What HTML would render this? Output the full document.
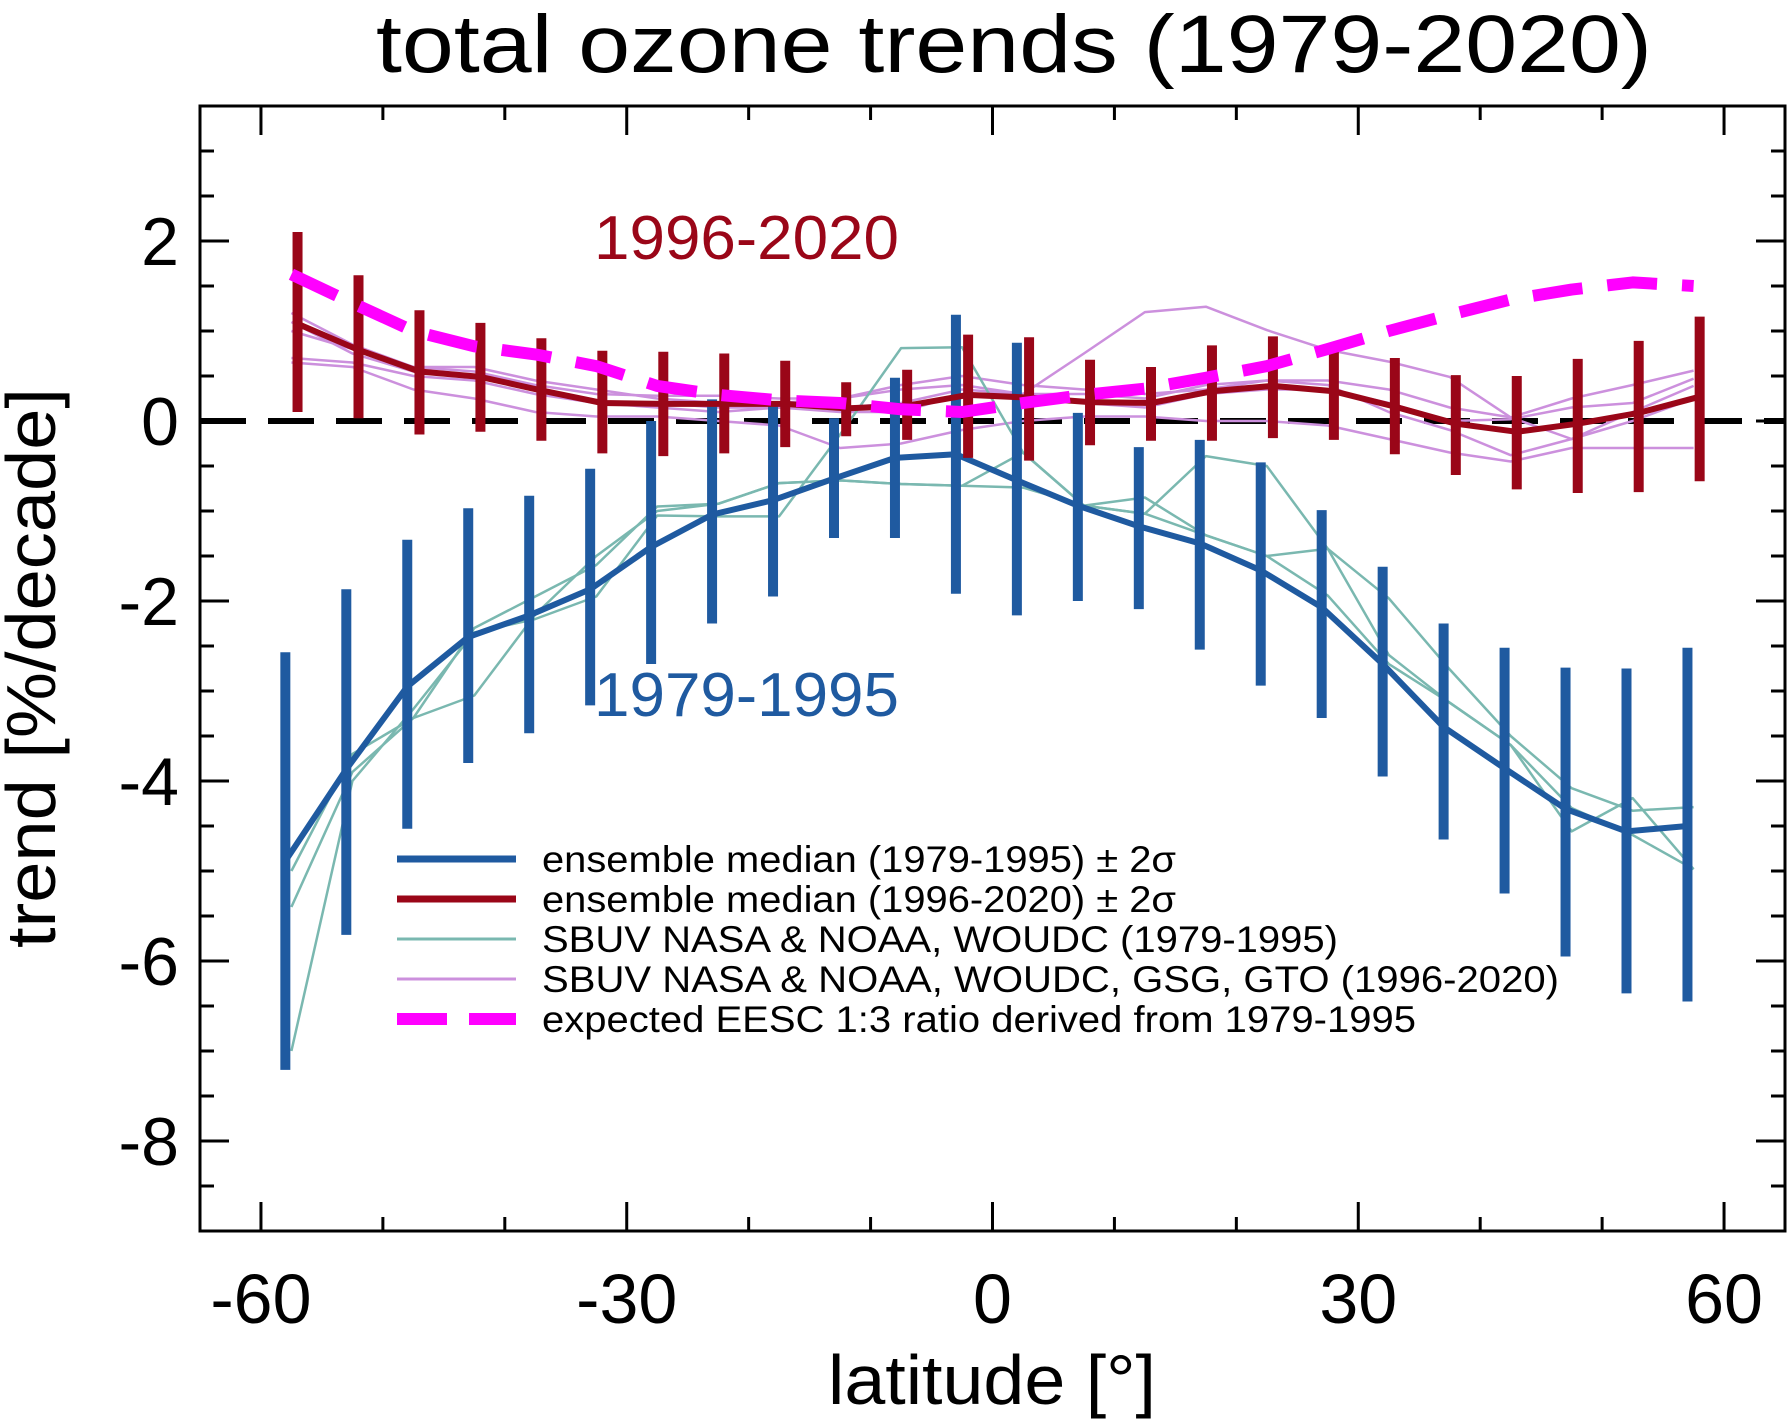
<!DOCTYPE html>
<html><head><meta charset="utf-8">
<style>
html,body{margin:0;padding:0;background:#fff;}
svg{display:block;font-family:"Liberation Sans",Arial,sans-serif;}
</style></head>
<body>
<svg id="chart" width="1791" height="1421" viewBox="0 0 1791 1421" xmlns="http://www.w3.org/2000/svg">
<rect x="0" y="0" width="1791" height="1421" fill="#fff"/>
<text x="1014" y="72" font-size="82" text-anchor="middle" textLength="1276" lengthAdjust="spacingAndGlyphs">total ozone trends (1979-2020)</text>
<g id="marks"></g>
<g id="axes"></g>
<text x="594" y="259" font-size="62" fill="#9a0618" textLength="305" lengthAdjust="spacingAndGlyphs">1996-2020</text>
<text x="594" y="716" font-size="62" fill="#1f5aa0" textLength="305" lengthAdjust="spacingAndGlyphs">1979-1995</text>
<text x="992" y="1404" font-size="70" text-anchor="middle" textLength="328" lengthAdjust="spacingAndGlyphs">latitude [°]</text>
<text transform="translate(55,668) rotate(-90)" font-size="70" text-anchor="middle" textLength="560" lengthAdjust="spacingAndGlyphs">trend [%/decade]</text>
<g id="legend">
 <line x1="397" y1="859" x2="516" y2="859" stroke="#1f5aa0" stroke-width="7"/>
 <text x="542" y="872" font-size="37" textLength="634" lengthAdjust="spacingAndGlyphs">ensemble median (1979-1995) ± 2σ</text>
 <line x1="397" y1="899" x2="516" y2="899" stroke="#9a0618" stroke-width="7"/>
 <text x="542" y="912" font-size="37" textLength="634" lengthAdjust="spacingAndGlyphs">ensemble median (1996-2020) ± 2σ</text>
 <line x1="397" y1="939" x2="516" y2="939" stroke="#7ab8b0" stroke-width="3"/>
 <text x="542" y="952" font-size="37" textLength="796" lengthAdjust="spacingAndGlyphs">SBUV NASA &amp; NOAA, WOUDC (1979-1995)</text>
 <line x1="397" y1="979" x2="516" y2="979" stroke="#cc90dd" stroke-width="3"/>
 <text x="542" y="992" font-size="37" textLength="1017" lengthAdjust="spacingAndGlyphs">SBUV NASA &amp; NOAA, WOUDC, GSG, GTO (1996-2020)</text>
 <line x1="397" y1="1019" x2="516" y2="1019" stroke="#ff00ff" stroke-width="12" stroke-dasharray="50,22"/>
 <text x="542" y="1032" font-size="37" textLength="874" lengthAdjust="spacingAndGlyphs">expected EESC 1:3 ratio derived from 1979-1995</text>
</g>
</svg>
<script>
const lats = [-57.5,-52.5,-47.5,-42.5,-37.5,-32.5,-27.5,-22.5,-17.5,-12.5,-7.5,-2.5,2.5,7.5,12.5,17.5,22.5,27.5,32.5,37.5,42.5,47.5,52.5,57.5];
const blueMed = [-4.89,-3.87,-2.95,-2.4,-2.16,-1.87,-1.4,-1.04,-0.88,-0.64,-0.41,-0.37,-0.66,-0.94,-1.17,-1.36,-1.66,-2.07,-2.7,-3.4,-3.86,-4.31,-4.56,-4.5];
const blueTop = [-2.57,-1.87,-1.32,-0.97,-0.83,-0.53,0.0,0.24,0.2,0.03,0.48,1.18,0.87,0.09,-0.29,-0.21,-0.46,-0.99,-1.62,-2.25,-2.52,-2.74,-2.75,-2.52];
const blueBot = [-7.21,-5.71,-4.53,-3.8,-3.47,-3.16,-2.7,-2.25,-1.95,-1.3,-1.3,-1.92,-2.16,-2.0,-2.09,-2.54,-2.94,-3.3,-3.95,-4.65,-5.25,-5.95,-6.36,-6.45];
const redMed = [1.08,0.79,0.55,0.49,0.34,0.2,0.19,0.19,0.19,0.14,0.17,0.29,0.26,0.21,0.2,0.33,0.39,0.33,0.16,-0.03,-0.12,-0.03,0.09,0.27];
const redTop = [2.1,1.62,1.23,1.09,0.92,0.78,0.77,0.75,0.67,0.43,0.57,0.96,0.93,0.68,0.6,0.84,0.94,0.84,0.7,0.51,0.5,0.69,0.89,1.16];
const redBot = [0.1,0.03,-0.15,-0.12,-0.22,-0.36,-0.39,-0.36,-0.29,-0.17,-0.21,-0.41,-0.44,-0.27,-0.22,-0.22,-0.19,-0.21,-0.37,-0.6,-0.76,-0.8,-0.79,-0.67];
const eesc = [1.63,1.31,1.0,0.83,0.74,0.61,0.39,0.29,0.23,0.2,0.13,0.1,0.2,0.29,0.36,0.48,0.61,0.8,1.0,1.18,1.35,1.46,1.54,1.5];
const teal1 = [-5.0,-3.7,-3.3,-2.3,-1.95,-1.6,-0.95,-0.92,-0.69,-0.66,-0.7,-0.72,-0.35,-0.94,-1.03,-0.39,-0.5,-1.42,-1.97,-2.76,-3.5,-4.08,-4.33,-4.29];
const teal2 = [-5.4,-3.9,-3.3,-3.05,-2.15,-1.5,-1.0,-0.92,-0.69,-0.66,-0.7,-0.72,-0.74,-0.94,-0.85,-1.27,-1.5,-1.42,-2.6,-3.13,-3.6,-4.3,-4.6,-4.98];
const teal3 = [-7.0,-4.0,-3.2,-2.35,-2.2,-1.95,-1.05,-1.06,-1.06,-0.15,0.81,0.82,-0.35,-0.94,-1.03,-1.27,-1.5,-1.94,-2.7,-3.13,-3.6,-4.56,-4.19,-4.98];
const purple1 = [1.2,0.85,0.6,0.55,0.4,0.3,0.28,0.28,0.25,0.25,0.4,0.5,0.4,0.35,0.3,0.35,0.45,0.45,0.35,0.15,0.04,0.25,0.4,0.56];
const purple2 = [1.0,0.8,0.6,0.6,0.45,0.35,0.25,0.2,0.2,0.25,0.35,0.4,0.3,0.2,0.15,0.3,0.35,0.35,0.2,0.0,0.02,0.15,0.2,0.47];
const purple3 = [0.7,0.65,0.5,0.45,0.3,0.2,0.15,0.1,0.15,0.1,0.1,0.3,0.3,0.75,1.21,1.27,1.01,0.79,0.66,0.49,0.04,-0.2,0.0,0.25];
const purple4 = [0.65,0.6,0.35,0.25,0.1,0.05,0.05,0.0,-0.05,-0.3,-0.25,-0.1,0.0,0.05,0.05,0.0,0.0,-0.05,-0.2,-0.35,-0.45,-0.3,-0.3,-0.3];
const purple5 = [1.1,0.75,0.55,0.5,0.35,0.2,0.2,0.15,0.15,0.15,0.2,0.35,0.3,0.3,0.25,0.4,0.45,0.4,0.1,-0.1,-0.38,-0.2,0.1,0.39];
const xTicks = [-60,-30,0,30,60];
const xTickLabels = ["-60","-30","0","30","60"];
const yTicks = [-8,-6,-4,-2,0,2];
const yTickLabels = ["-8","-6","-4","-2","0","2"];

const L=200,R=1785,T=106,B=1231, XMIN=-65,XMAX=65,YMIN=-9,YMAX=3.5;
function sx(v){return L+(v-XMIN)/(XMAX-XMIN)*(R-L);}
function sy(v){return B-(v-YMIN)/(YMAX-YMIN)*(B-T);}
const NS="http://www.w3.org/2000/svg";
const marks=document.getElementById('marks');
const axes=document.getElementById('axes');
function mk(tag,attrs,parent){const e=document.createElementNS(NS,tag);for(const k in attrs)e.setAttribute(k,attrs[k]);parent.appendChild(e);return e;}
function poly(vals,off,color,w,name,dash){
  const pts=vals.map((v,i)=>sx(lats[i]+off).toFixed(1)+','+sy(v).toFixed(1)).join(' ');
  const e=mk('polyline',{points:pts,fill:'none',stroke:color,'stroke-width':w,'stroke-linejoin':'round'},marks);
  if(dash)e.setAttribute('stroke-dasharray',dash);
  
  
}
const z=mk('line',{x1:L,x2:R,y1:sy(0),y2:sy(0),stroke:'#000','stroke-width':6,'stroke-dasharray':'46,22'},marks);


[purple1,purple2,purple3,purple4,purple5].forEach((s,i)=>poly(s,0,'#cc90dd',2.5,'purple-dataset-'+(i+1)));
[teal1,teal2,teal3].forEach((s,i)=>poly(s,0,'#7ab8b0',2.5,'teal-dataset-'+(i+1)));
lats.forEach((la,i)=>{
  const b=mk('line',{x1:sx(la-0.5),x2:sx(la-0.5),y1:sy(blueTop[i]),y2:sy(blueBot[i]),stroke:'#1f5aa0','stroke-width':10},marks);
  
  
});
poly(blueMed,-0.5,'#1f5aa0',6,'blue-median-line');
lats.forEach((la,i)=>{
  const b=mk('line',{x1:sx(la+0.5),x2:sx(la+0.5),y1:sy(redTop[i]),y2:sy(redBot[i]),stroke:'#9a0618','stroke-width':10},marks);
  
  
});
poly(redMed,0.5,'#9a0618',6,'red-median-line');
poly(eesc,0,'#ff00ff',12,'eesc-expected-line','50,25');
const fr=mk('rect',{x:L,y:T,width:R-L,height:B-T,fill:'none',stroke:'#000','stroke-width':3},axes);


for(let v=-9;v<=3.5+1e-9;v+=0.5){
  const major=Math.abs(v%2)<1e-9;
  const len=major?29:14;
  mk('line',{x1:L,x2:L+len,y1:sy(v),y2:sy(v),stroke:'#000','stroke-width':3},axes);
  mk('line',{x1:R,x2:R-len,y1:sy(v),y2:sy(v),stroke:'#000','stroke-width':3},axes);
}
yTicks.forEach((v,i)=>{
  const t=mk('text',{x:179,y:sy(v)+24,'font-size':68,'text-anchor':'end'},axes);
  t.textContent=yTickLabels[i];
  
  
});
for(let v=-60;v<=60;v+=10){
  const major=v%30===0;
  const len=major?29:14;
  mk('line',{x1:sx(v),x2:sx(v),y1:B,y2:B-len,stroke:'#000','stroke-width':3},axes);
  mk('line',{x1:sx(v),x2:sx(v),y1:T,y2:T+len,stroke:'#000','stroke-width':3},axes);
}
xTicks.forEach((v,i)=>{
  const t=mk('text',{x:sx(v),y:1323,'font-size':70,'text-anchor':'middle'},axes);
  t.textContent=xTickLabels[i];
  
  
});
</script>
</body></html>
